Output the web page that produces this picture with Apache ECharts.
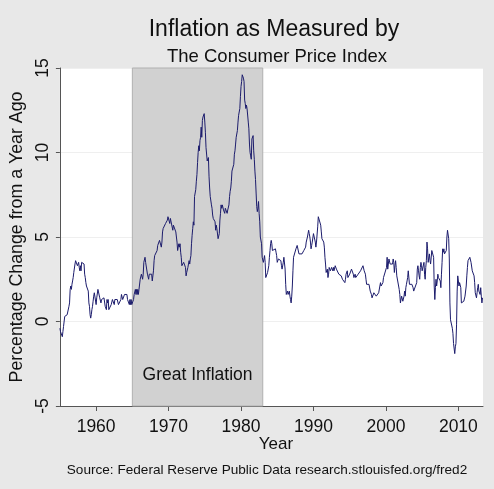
<!DOCTYPE html>
<html>
<head>
<meta charset="utf-8">
<script src="https://cdn.jsdelivr.net/npm/echarts@6/dist/echarts.min.js"></script>
<style>
html,body{margin:0;padding:0;background:#e8e8e8;}
#chart{width:494px;height:489px;}
</style>
</head>
<body>
<div id="chart"></div>
<script>
// CPI percentage change from a year ago, monthly, starting January 1955
var startYear = 1955;
var cpiYoY = [
 -0.4,-0.6,-0.7,-0.6,-0.9,-0.6,-0.3,-0.2,0.3,0.2,0.4,0.4,   // 1955
 0.4,0.4,0.4,0.9,1.1,1.9,2.1,1.9,2.2,2.4,2.6,2.9,          // 1956
 3.0,3.4,3.6,3.7,3.5,3.3,3.4,3.5,3.2,3.0,3.3,3.0,          // 1957
 3.5,3.4,3.6,3.6,3.4,2.8,2.6,2.3,2.1,2.1,2.0,1.8,          // 1958
 1.1,0.9,0.4,0.2,0.4,0.7,0.9,1.2,1.5,1.7,1.7,1.7,          // 1959
 1.0,1.4,1.4,1.9,1.9,1.8,1.4,1.4,1.1,1.3,1.3,1.4,          // 1960
 1.4,1.4,1.4,0.9,0.9,0.7,1.3,1.1,1.3,0.7,0.7,0.7,          // 1961
 0.7,1.0,1.0,1.3,1.3,1.3,1.0,1.3,1.3,1.3,1.3,1.3,          // 1962
 1.3,1.0,1.0,1.0,1.0,1.3,1.6,1.6,1.3,1.3,1.3,1.6,          // 1963
 1.6,1.6,1.6,1.6,1.3,1.3,1.3,1.0,1.3,1.0,1.3,1.0,          // 1964
 1.0,1.0,1.3,1.6,1.6,1.9,1.6,1.9,1.6,1.9,1.6,1.9,          // 1965
 1.9,2.5,2.5,2.8,2.8,2.5,2.8,3.5,3.5,3.8,3.5,3.5,          // 1966
 3.5,2.8,2.8,2.5,2.8,2.8,2.8,2.8,2.8,2.4,2.7,3.0,          // 1967
 3.6,3.9,3.9,3.9,3.9,4.2,4.5,4.5,4.5,4.8,4.8,4.7,          // 1968
 4.4,4.7,5.3,5.5,5.5,5.5,5.5,5.8,5.8,5.7,6.0,6.2,          // 1969
 6.2,6.1,5.8,6.1,6.1,6.0,6.0,5.4,5.7,5.7,5.6,5.6,          // 1970
 5.3,5.0,4.7,4.2,4.4,4.6,4.4,4.6,4.1,3.8,3.3,3.3,          // 1971
 3.3,3.5,3.5,3.5,3.2,2.7,2.9,2.9,3.2,3.4,3.6,3.4,          // 1972
 3.7,3.9,4.6,5.1,5.5,5.9,5.7,7.4,7.4,7.8,8.3,8.7,          // 1973
 9.4,10.0,10.4,10.1,10.7,10.9,11.5,10.9,11.9,12.1,12.2,12.3, // 1974
 11.8,11.2,10.3,10.2,9.5,9.4,9.7,8.6,7.9,7.4,7.4,6.9,      // 1975
 6.7,6.3,6.1,6.0,6.2,5.9,5.4,5.7,5.5,5.5,4.9,4.9,          // 1976
 5.2,6.0,6.4,6.9,6.7,6.9,6.8,6.6,6.6,6.4,6.7,6.7,          // 1977
 6.8,6.4,6.6,6.5,6.9,7.4,7.7,7.9,8.3,8.9,8.9,9.0,          // 1978
 9.3,9.9,10.1,10.5,10.9,10.9,11.3,11.8,12.2,12.1,12.6,13.3, // 1979
 13.9,14.2,14.6,14.5,14.4,14.2,13.1,12.9,12.6,12.8,12.6,12.5, // 1980
 11.8,11.4,10.5,10.0,9.8,9.6,10.8,10.8,11.0,10.1,9.6,8.9,  // 1981
 8.4,7.6,6.8,6.5,6.7,7.1,6.4,5.9,5.0,5.1,4.6,3.8,          // 1982
 3.7,3.5,3.6,3.9,3.5,2.6,2.5,2.6,2.9,2.9,3.3,3.8,          // 1983
 4.2,4.6,4.8,4.6,4.2,4.2,4.2,4.3,4.3,4.3,4.1,3.9,          // 1984
 3.5,3.5,3.7,3.7,3.8,3.8,3.6,3.3,3.1,3.2,3.5,3.8,          // 1985
 3.9,3.1,2.2,1.6,1.5,1.8,1.6,1.6,1.8,1.5,1.3,1.1,          // 1986
 1.5,2.1,3.0,3.8,3.9,3.7,3.9,4.3,4.4,4.5,4.5,4.4,          // 1987
 4.0,3.9,3.9,3.9,3.9,4.0,4.1,4.0,4.2,4.2,4.2,4.4,          // 1988
 4.7,4.8,5.0,5.1,5.4,5.2,5.0,4.7,4.3,4.5,4.7,4.6,          // 1989
 5.2,5.3,5.2,4.7,4.4,4.7,4.8,5.6,6.2,6.3,6.3,6.1,          // 1990
 5.7,5.3,4.9,4.9,5.0,4.7,4.4,3.8,3.4,2.9,3.0,3.1,          // 1991
 2.6,2.8,3.2,3.2,3.0,3.1,3.2,3.1,3.0,3.2,3.0,2.9,          // 1992
 3.3,3.2,3.1,3.2,3.2,3.0,2.8,2.8,2.7,2.8,2.7,2.7,          // 1993
 2.5,2.5,2.5,2.4,2.3,2.5,2.8,2.9,3.0,2.6,2.7,2.7,          // 1994
 2.8,2.9,2.9,3.1,3.2,3.0,2.8,2.6,2.5,2.8,2.6,2.5,          // 1995
 2.7,2.7,2.8,2.9,2.9,2.8,3.0,2.9,3.0,3.0,3.3,3.3,          // 1996
 3.0,3.0,2.8,2.5,2.2,2.3,2.2,2.2,2.2,2.1,1.8,1.7,          // 1997
 1.6,1.4,1.4,1.4,1.7,1.7,1.7,1.6,1.5,1.5,1.5,1.6,          // 1998
 1.7,1.6,1.7,2.3,2.1,2.0,2.1,2.3,2.6,2.6,2.6,2.7,          // 1999
 2.7,3.2,3.8,3.1,3.2,3.7,3.7,3.4,3.5,3.4,3.4,3.4,          // 2000
 3.7,3.5,2.9,3.3,3.6,3.2,2.7,2.7,2.6,2.1,1.9,1.6,          // 2001
 1.1,1.1,1.5,1.6,1.2,1.1,1.5,1.8,1.5,2.0,2.2,2.4,          // 2002
 2.6,3.0,3.0,2.2,2.1,2.1,2.1,2.2,2.3,2.0,1.8,1.9,          // 2003
 1.9,1.7,1.7,2.3,3.1,3.3,3.0,2.7,2.5,3.2,3.5,3.3,          // 2004
 3.0,3.0,3.1,3.5,2.8,2.5,3.2,3.6,4.7,4.3,3.5,3.4,          // 2005
 4.0,3.6,3.4,3.5,4.2,4.3,4.1,3.8,2.1,1.3,2.0,2.5,          // 2006
 2.1,2.4,2.8,2.6,2.7,2.7,2.4,2.0,2.8,3.5,4.3,4.1,          // 2007
 4.3,4.0,4.0,3.9,4.2,5.0,5.4,5.3,4.9,3.7,1.1,0.1,          // 2008
 0.0,0.2,-0.4,-0.7,-1.3,-1.4,-1.9,-1.5,-1.3,-0.2,1.8,2.7,  // 2009
 2.6,2.1,2.3,2.2,2.0,1.1,1.2,1.1,1.1,1.2,1.1,1.5,          // 2010
 1.6,2.1,2.7,3.2,3.6,3.6,3.6,3.8,3.9,3.5,3.4,3.0,          // 2011
 2.9,2.9,2.7,2.3,1.7,1.7,1.4,1.7,2.0,2.2,1.8,1.7,          // 2012
 1.6,2.0,1.5,1.1,1.4                                       // 2013
];
var xTickYears = [1960, 1970, 1980, 1990, 2000, 2010];
var yTicks = [-5, 0, 5, 10, 15];
var shadeStart = 1965, shadeEnd = 1983;
var shadeLabel = 'Great Inflation';
var titleText = 'Inflation as Measured by';
var subtitleText = 'The Consumer Price Index';
var xName = 'Year';
var yName = 'Percentage Change from a Year Ago';
var sourceText = 'Source: Federal Reserve Public Data research.stlouisfed.org/fred2';

var points = cpiYoY.map(function (v, i) { return [startYear + i / 12, v]; });
var FF = '"Liberation Sans", Arial, sans-serif';

var chart = echarts.init(document.getElementById('chart'), null, {renderer: 'canvas'});
chart.setOption({
  backgroundColor: '#e8e8e8',
  animation: false,
  title: [
    {text: titleText, left: 269, top: 13, textAlign: 'center',
     textStyle: {fontFamily: FF, fontSize: 23, fontWeight: 'normal', color: '#111'}},
    {text: subtitleText, left: 272, top: 42, textAlign: 'center',
     textStyle: {fontFamily: FF, fontSize: 18.5, fontWeight: 'normal', color: '#111'}},
    {text: xName, left: 271, top: 431, textAlign: 'center',
     textStyle: {fontFamily: FF, fontSize: 17, fontWeight: 'normal', color: '#111'}},
    {text: sourceText, left: 262, top: 458, textAlign: 'center',
     textStyle: {fontFamily: FF, fontSize: 13.6, fontWeight: 'normal', color: '#111'}}
  ],
  grid: {left: 59, right: 11, top: 68, bottom: 83, show: true, backgroundColor: '#ffffff', borderWidth: 0},
  xAxis: {
    type: 'value', min: 1955, max: 2013.4,
    axisLine: {show: true, onZero: false, lineStyle: {color: '#555', width: 1}},
    axisTick: {show: true, length: 5, customValues: xTickYears, lineStyle: {color: '#555'}},
    axisLabel: {customValues: xTickYears, margin: 12, fontFamily: FF, fontSize: 17.5, color: '#111',
                formatter: function (v) { return String(Math.round(v)); }},
    splitLine: {show: false}
  },
  yAxis: {
    type: 'value', min: -5, max: 15, interval: 5,
    name: yName, nameLocation: 'middle', nameRotate: 90, nameGap: 31,
    nameTextStyle: {fontFamily: FF, fontSize: 17.8, color: '#111'},
    axisLine: {show: true, lineStyle: {color: '#555', width: 1}},
    axisTick: {show: true, length: 4, lineStyle: {color: '#555'}},
    axisLabel: {rotate: 90, margin: 8, fontFamily: FF, fontSize: 17.5, color: '#111'},
    splitLine: {show: true, lineStyle: {color: '#efefef', width: 1}}
  },
  series: [{
    type: 'line',
    data: points,
    showSymbol: false,
    symbol: 'none',
    lineStyle: {color: '#1c1c6c', width: 1},
    z: 5,
    markArea: {
      silent: true,
      z: 1,
      itemStyle: {color: '#d1d1d1', borderColor: '#b0b0b0', borderWidth: 1},
      label: {show: true, position: 'insideBottom', distance: 22, formatter: shadeLabel,
              fontFamily: FF, fontSize: 17.5, color: '#111'},
      data: [[{xAxis: shadeStart}, {xAxis: shadeEnd}]]
    }
  }]
});
</script>
</body>
</html>
